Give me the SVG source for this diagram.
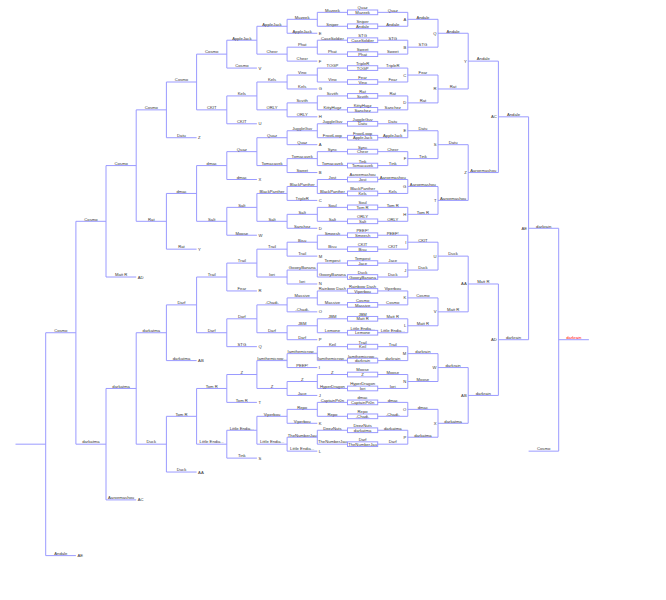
<svg xmlns="http://www.w3.org/2000/svg" width="666" height="600" viewBox="0 0 666 600">
<style>
.ln{fill:none;stroke:#9a9aff;stroke-width:1}
.bx{fill:none;stroke:#9a9aff;stroke-width:1}
text{font-family:"Liberation Sans",Arial,sans-serif;font-size:4.2px;fill:#333;text-anchor:middle}
.lt{text-anchor:end}
.dl{text-anchor:start}
.champ{fill:#ff0000}
</style>
<rect width="666" height="600" fill="#ffffff"/>
<g id="connectors" class="ln">
<path d="M377.7 12.35H407.8V26.28H377.7M407.8 19.32H438"/>
<path d="M377.7 40.21H407.8V54.14H377.7M407.8 47.18H438"/>
<path d="M377.7 68.07H407.8V82H377.7M407.8 75.04H438"/>
<path d="M377.7 95.93H407.8V109.86H377.7M407.8 102.9H438"/>
<path d="M377.7 123.79H407.8V137.72H377.7M407.8 130.76H438"/>
<path d="M377.7 151.65H407.8V165.58H377.7M407.8 158.62H438"/>
<path d="M377.7 179.51H407.8V193.44H377.7M407.8 186.48H438"/>
<path d="M377.7 207.37H407.8V221.3H377.7M407.8 214.34H438"/>
<path d="M377.7 235.23H407.8V249.16H377.7M407.8 242.2H438"/>
<path d="M377.7 263.09H407.8V277.02H377.7M407.8 270.06H438"/>
<path d="M377.7 290.95H407.8V304.88H377.7M407.8 297.92H438"/>
<path d="M377.7 318.81H407.8V332.74H377.7M407.8 325.78H438"/>
<path d="M377.7 346.67H407.8V360.6H377.7M407.8 353.64H438"/>
<path d="M377.7 374.53H407.8V388.46H377.7M407.8 381.5H438"/>
<path d="M377.7 402.39H407.8V416.32H377.7M407.8 409.36H438"/>
<path d="M377.7 430.25H407.8V444.18H377.7M407.8 437.22H438"/>
<path d="M347.5 12.35H317.3V26.28H347.5M317.3 19.32H287.1"/>
<path d="M347.5 40.21H317.3V54.14H347.5M317.3 47.18H287.1"/>
<path d="M347.5 68.07H317.3V82H347.5M317.3 75.04H287.1"/>
<path d="M347.5 95.93H317.3V109.86H347.5M317.3 102.9H287.1"/>
<path d="M347.5 123.79H317.3V137.72H347.5M317.3 130.76H287.1"/>
<path d="M347.5 151.65H317.3V165.58H347.5M317.3 158.62H287.1"/>
<path d="M347.5 179.51H317.3V193.44H347.5M317.3 186.48H287.1"/>
<path d="M347.5 207.37H317.3V221.3H347.5M317.3 214.34H287.1"/>
<path d="M347.5 235.23H317.3V249.16H347.5M317.3 242.2H287.1"/>
<path d="M347.5 263.09H317.3V277.02H347.5M317.3 270.06H287.1"/>
<path d="M347.5 290.95H317.3V304.88H347.5M317.3 297.92H287.1"/>
<path d="M347.5 318.81H317.3V332.74H347.5M317.3 325.78H287.1"/>
<path d="M347.5 346.67H317.3V360.6H347.5M317.3 353.64H287.1"/>
<path d="M347.5 374.53H317.3V388.46H347.5M317.3 381.5H287.1"/>
<path d="M347.5 402.39H317.3V416.32H347.5M317.3 409.36H287.1"/>
<path d="M347.5 430.25H317.3V444.18H347.5M317.3 437.22H287.1"/>
<path d="M287.1 19.32V33.25H317.3M287.1 26.28H256.9"/>
<path d="M287.1 47.18V61.11H317.3M287.1 54.14H256.9"/>
<path d="M287.1 75.04V88.97H317.3M287.1 82H256.9"/>
<path d="M287.1 102.9V116.83H317.3M287.1 109.86H256.9"/>
<path d="M287.1 130.76V144.69H317.3M287.1 137.72H256.9"/>
<path d="M287.1 158.62V172.55H317.3M287.1 165.58H256.9"/>
<path d="M287.1 186.48V200.41H317.3M287.1 193.44H256.9"/>
<path d="M287.1 214.34V228.27H317.3M287.1 221.3H256.9"/>
<path d="M287.1 242.2V256.13H317.3M287.1 249.16H256.9"/>
<path d="M287.1 270.06V283.99H317.3M287.1 277.02H256.9"/>
<path d="M287.1 297.92V311.85H317.3M287.1 304.88H256.9"/>
<path d="M287.1 325.78V339.71H317.3M287.1 332.74H256.9"/>
<path d="M287.1 353.64V367.57H317.3M287.1 360.6H256.9"/>
<path d="M287.1 381.5V395.43H317.3M287.1 388.46H256.9"/>
<path d="M287.1 409.36V423.29H317.3M287.1 416.32H256.9"/>
<path d="M287.1 437.22V451.15H317.3M287.1 444.18H256.9"/>
<path d="M438 19.32V47.18M438 33.25H468.2"/>
<path d="M438 75.04V102.9M438 88.97H468.2"/>
<path d="M438 130.76V158.62M438 144.69H468.2"/>
<path d="M438 186.48V214.34M438 200.41H468.2"/>
<path d="M438 242.2V270.06M438 256.13H468.2"/>
<path d="M438 297.92V325.78M438 311.85H468.2"/>
<path d="M438 353.64V381.5M438 367.57H468.2"/>
<path d="M438 409.36V437.22M438 423.29H468.2"/>
<path d="M256.9 26.28V54.14M256.9 40.21H226.8"/>
<path d="M256.9 82V109.86M256.9 95.93H226.8"/>
<path d="M256.9 137.72V165.58M256.9 151.65H226.8"/>
<path d="M256.9 193.44V221.3M256.9 207.37H226.8"/>
<path d="M256.9 249.16V277.02M256.9 263.09H226.8"/>
<path d="M256.9 304.88V332.74M256.9 318.81H226.8"/>
<path d="M256.9 360.6V388.46M256.9 374.53H226.8"/>
<path d="M256.9 416.32V444.18M256.9 430.25H226.8"/>
<path d="M226.8 40.21V68.07H256.9M226.8 54.14H196.6"/>
<path d="M226.8 95.93V123.79H256.9M226.8 109.86H196.6"/>
<path d="M226.8 151.65V179.51H256.9M226.8 165.58H196.6"/>
<path d="M226.8 207.37V235.23H256.9M226.8 221.3H196.6"/>
<path d="M226.8 263.09V290.95H256.9M226.8 277.02H196.6"/>
<path d="M226.8 318.81V346.67H256.9M226.8 332.74H196.6"/>
<path d="M226.8 374.53V402.39H256.9M226.8 388.46H196.6"/>
<path d="M226.8 430.25V458.11H256.9M226.8 444.18H196.6"/>
<path d="M468.2 33.25V88.97M468.2 61.11H498.4"/>
<path d="M468.2 144.69V200.41M468.2 172.55H498.4"/>
<path d="M468.2 256.13V311.85M468.2 283.99H498.4"/>
<path d="M468.2 367.57V423.29M468.2 395.43H498.4"/>
<path d="M196.6 54.14V109.86M196.6 82H166.4"/>
<path d="M196.6 165.58V221.3M196.6 193.44H166.4"/>
<path d="M196.6 277.02V332.74M196.6 304.88H166.4"/>
<path d="M196.6 388.46V444.18M196.6 416.32H166.4"/>
<path d="M166.4 82V137.72H196.6M166.4 109.86H136.2"/>
<path d="M166.4 193.44V249.16H196.6M166.4 221.3H136.2"/>
<path d="M166.4 304.88V360.6H196.6M166.4 332.74H136.2"/>
<path d="M166.4 416.32V472.04H196.6M166.4 444.18H136.2"/>
<path d="M498.4 61.11V172.55M498.4 116.83H528.6"/>
<path d="M498.4 283.99V395.43M498.4 339.71H528.6"/>
<path d="M136.2 109.86V221.3M136.2 165.58H106"/>
<path d="M136.2 332.74V444.18M136.2 388.46H106"/>
<path d="M106 165.58V277.02H136.2M106 221.3H75.9"/>
<path d="M106 388.46V499.9H136.2M106 444.18H75.9"/>
<path d="M75.9 221.3V444.18M75.9 332.74H45.7"/>
<path d="M45.7 332.74V555.62H75.9M45.7 444.18H15.5"/>
<path d="M528.6 116.83V339.71M528.6 228.27H558.7"/>
<path d="M558.7 228.27V451.15H528.6M558.7 339.71H588.9"/>
</g>
<g id="w1-00" transform="translate(0,12.35)"><rect class="bx" x="347.5" y="-2.35" width="30.2" height="4.7"/><text x="362.6" y="-3.05">Quaz</text><text x="362.6" y="1.65">Muzeek</text><text x="392.75" y="-0.7">Quaz</text><text x="332.4" y="-0.7">Muzeek</text></g>
<g id="w1-01" transform="translate(0,26.28)"><rect class="bx" x="347.5" y="-2.35" width="30.2" height="4.7"/><text x="362.6" y="-3.05">Sniper</text><text x="362.6" y="1.65">Andale</text><text x="392.75" y="-0.7">Andale</text><text x="332.4" y="-0.7">Sniper</text></g>
<g id="w1-02" transform="translate(0,40.21)"><rect class="bx" x="347.5" y="-2.35" width="30.2" height="4.7"/><text x="362.6" y="-3.05">STG</text><text x="362.6" y="1.65">CaseSoldier</text><text x="392.75" y="-0.7">STG</text><text x="332.4" y="-0.7">CaseSoldier</text></g>
<g id="w1-03" transform="translate(0,54.14)"><rect class="bx" x="347.5" y="-2.35" width="30.2" height="4.7"/><text x="362.6" y="-3.05">Sweet</text><text x="362.6" y="1.65">Phat</text><text x="392.75" y="-0.7">Sweet</text><text x="332.4" y="-0.7">Phat</text></g>
<g id="w1-04" transform="translate(0,68.07)"><rect class="bx" x="347.5" y="-2.35" width="30.2" height="4.7"/><text x="362.6" y="-3.05">TripleR</text><text x="362.6" y="1.65">TOGP</text><text x="392.75" y="-0.7">TripleR</text><text x="332.4" y="-0.7">TOGP</text></g>
<g id="w1-05" transform="translate(0,82)"><rect class="bx" x="347.5" y="-2.35" width="30.2" height="4.7"/><text x="362.6" y="-3.05">Fear</text><text x="362.6" y="1.65">Vino</text><text x="392.75" y="-0.7">Fear</text><text x="332.4" y="-0.7">Vino</text></g>
<g id="w1-06" transform="translate(0,95.93)"><rect class="bx" x="347.5" y="-2.35" width="30.2" height="4.7"/><text x="362.6" y="-3.05">Rat</text><text x="362.6" y="1.65">Scvith</text><text x="392.75" y="-0.7">Rat</text><text x="332.4" y="-0.7">Scvith</text></g>
<g id="w1-07" transform="translate(0,109.86)"><rect class="bx" x="347.5" y="-2.35" width="30.2" height="4.7"/><text x="362.6" y="-3.05">KittyHugz</text><text x="362.6" y="1.65">Sanchez</text><text x="392.75" y="-0.7">Sanchez</text><text x="332.4" y="-0.7">KittyHugz</text></g>
<g id="w1-08" transform="translate(0,123.79)"><rect class="bx" x="347.5" y="-2.35" width="30.2" height="4.7"/><text x="362.6" y="-3.05">JuggleGuv</text><text x="362.6" y="1.65">Datu</text><text x="392.75" y="-0.7">Datu</text><text x="332.4" y="-0.7">JuggleGuv</text></g>
<g id="w1-09" transform="translate(0,137.72)"><rect class="bx" x="347.5" y="-2.35" width="30.2" height="4.7"/><text x="362.6" y="-3.05">FrootLoop</text><text x="362.6" y="1.65">AppleJack</text><text x="392.75" y="-0.7">AppleJack</text><text x="332.4" y="-0.7">FrootLoop</text></g>
<g id="w1-10" transform="translate(0,151.65)"><rect class="bx" x="347.5" y="-2.35" width="30.2" height="4.7"/><text x="362.6" y="-3.05">Sync</text><text x="362.6" y="1.65">Chexr</text><text x="392.75" y="-0.7">Chexr</text><text x="332.4" y="-0.7">Sync</text></g>
<g id="w1-11" transform="translate(0,165.58)"><rect class="bx" x="347.5" y="-2.35" width="30.2" height="4.7"/><text x="362.6" y="-3.05">Tink</text><text x="362.6" y="1.65">Tomacavek</text><text x="392.75" y="-0.7">Tink</text><text x="332.4" y="-0.7">Tomacavek</text></g>
<g id="w1-12" transform="translate(0,179.51)"><rect class="bx" x="347.5" y="-2.35" width="30.2" height="4.7"/><text x="362.6" y="-3.05">Aaroemashou</text><text x="362.6" y="1.65">Jost</text><text x="392.75" y="-0.7">Aaroemashou</text><text x="332.4" y="-0.7">Jost</text></g>
<g id="w1-13" transform="translate(0,193.44)"><rect class="bx" x="347.5" y="-2.35" width="30.2" height="4.7"/><text x="362.6" y="-3.05">BlackPanther</text><text x="362.6" y="1.65">Kels</text><text x="392.75" y="-0.7">Kels</text><text x="332.4" y="-0.7">BlackPanther</text></g>
<g id="w1-14" transform="translate(0,207.37)"><rect class="bx" x="347.5" y="-2.35" width="30.2" height="4.7"/><text x="362.6" y="-3.05">Soul</text><text x="362.6" y="1.65">Tom R</text><text x="392.75" y="-0.7">Tom R</text><text x="332.4" y="-0.7">Soul</text></g>
<g id="w1-15" transform="translate(0,221.3)"><rect class="bx" x="347.5" y="-2.35" width="30.2" height="4.7"/><text x="362.6" y="-3.05">ORLY</text><text x="362.6" y="1.65">Salt</text><text x="392.75" y="-0.7">ORLY</text><text x="332.4" y="-0.7">Salt</text></g>
<g id="w1-16" transform="translate(0,235.23)"><rect class="bx" x="347.5" y="-2.35" width="30.2" height="4.7"/><text x="362.6" y="-3.05">PEEF!</text><text x="362.6" y="1.65">Smeesh</text><text x="392.75" y="-0.7">PEEF!</text><text x="332.4" y="-0.7">Smeesh</text></g>
<g id="w1-17" transform="translate(0,249.16)"><rect class="bx" x="347.5" y="-2.35" width="30.2" height="4.7"/><text x="362.6" y="-3.05">CKIT</text><text x="362.6" y="1.65">Bisu</text><text x="392.75" y="-0.7">CKIT</text><text x="332.4" y="-0.7">Bisu</text></g>
<g id="w1-18" transform="translate(0,263.09)"><rect class="bx" x="347.5" y="-2.35" width="30.2" height="4.7"/><text x="362.6" y="-3.05">Tempest</text><text x="362.6" y="1.65">Jace</text><text x="392.75" y="-0.7">Jace</text><text x="332.4" y="-0.7">Tempest</text></g>
<g id="w1-19" transform="translate(0,277.02)"><rect class="bx" x="347.5" y="-2.35" width="30.2" height="4.7"/><text x="362.6" y="-3.05">Duck</text><text x="362.6" y="1.65">GooeyBanana</text><text x="392.75" y="-0.7">Duck</text><text x="332.4" y="-0.7">GooeyBanana</text></g>
<g id="w1-20" transform="translate(0,290.95)"><rect class="bx" x="347.5" y="-2.35" width="30.2" height="4.7"/><text x="362.6" y="-3.05">Rainbow Dash</text><text x="362.6" y="1.65">Viperbou</text><text x="392.75" y="-0.7">Viperbou</text><text x="332.4" y="-0.7">Rainbow Dash</text></g>
<g id="w1-21" transform="translate(0,304.88)"><rect class="bx" x="347.5" y="-2.35" width="30.2" height="4.7"/><text x="362.6" y="-3.05">Cosmo</text><text x="362.6" y="1.65">Massive</text><text x="392.75" y="-0.7">Cosmo</text><text x="332.4" y="-0.7">Massive</text></g>
<g id="w1-22" transform="translate(0,318.81)"><rect class="bx" x="347.5" y="-2.35" width="30.2" height="4.7"/><text x="362.6" y="-3.05">JBM</text><text x="362.6" y="1.65">Matt R</text><text x="392.75" y="-0.7">Matt R</text><text x="332.4" y="-0.7">JBM</text></g>
<g id="w1-23" transform="translate(0,332.74)"><rect class="bx" x="347.5" y="-2.35" width="30.2" height="4.7"/><text x="362.6" y="-3.05">Little Endia...</text><text x="362.6" y="1.65">Lemone</text><text x="392.75" y="-0.7">Little Endia...</text><text x="332.4" y="-0.7">Lemone</text></g>
<g id="w1-24" transform="translate(0,346.67)"><rect class="bx" x="347.5" y="-2.35" width="30.2" height="4.7"/><text x="362.6" y="-3.05">Trail</text><text x="362.6" y="1.65">Keil</text><text x="392.75" y="-0.7">Trail</text><text x="332.4" y="-0.7">Keil</text></g>
<g id="w1-25" transform="translate(0,360.6)"><rect class="bx" x="347.5" y="-2.35" width="30.2" height="4.7"/><text x="362.6" y="-3.05">Iamthemicrow...</text><text x="362.6" y="1.65">darkrain</text><text x="392.75" y="-0.7">darkrain</text><text x="332.4" y="-0.7">Iamthemicrow...</text></g>
<g id="w1-26" transform="translate(0,374.53)"><rect class="bx" x="347.5" y="-2.35" width="30.2" height="4.7"/><text x="362.6" y="-3.05">Moose</text><text x="362.6" y="1.65">Z</text><text x="392.75" y="-0.7">Moose</text><text x="332.4" y="-0.7">Z</text></g>
<g id="w1-27" transform="translate(0,388.46)"><rect class="bx" x="347.5" y="-2.35" width="30.2" height="4.7"/><text x="362.6" y="-3.05">HyperDragon</text><text x="362.6" y="1.65">Iori</text><text x="392.75" y="-0.7">Iori</text><text x="332.4" y="-0.7">HyperDragon</text></g>
<g id="w1-28" transform="translate(0,402.39)"><rect class="bx" x="347.5" y="-2.35" width="30.2" height="4.7"/><text x="362.6" y="-3.05">dmac</text><text x="362.6" y="1.65">CaptainPr0n</text><text x="392.75" y="-0.7">dmac</text><text x="332.4" y="-0.7">CaptainPr0n</text></g>
<g id="w1-29" transform="translate(0,416.32)"><rect class="bx" x="347.5" y="-2.35" width="30.2" height="4.7"/><text x="362.6" y="-3.05">Repo</text><text x="362.6" y="1.65">-Chadi-</text><text x="392.75" y="-0.7">-Chadi-</text><text x="332.4" y="-0.7">Repo</text></g>
<g id="w1-30" transform="translate(0,430.25)"><rect class="bx" x="347.5" y="-2.35" width="30.2" height="4.7"/><text x="362.6" y="-3.05">DeezNuts</text><text x="362.6" y="1.65">darkatma</text><text x="392.75" y="-0.7">darkatma</text><text x="332.4" y="-0.7">DeezNuts</text></g>
<g id="w1-31" transform="translate(0,444.18)"><rect class="bx" x="347.5" y="-2.35" width="30.2" height="4.7"/><text x="362.6" y="-3.05">Darf</text><text x="362.6" y="1.65">TheNumberJau</text><text x="392.75" y="-0.7">Darf</text><text x="332.4" y="-0.7">TheNumberJau</text></g>
<g id="winners-r2">
<text x="422.9" y="18.62">Andale</text><text class="lt" x="406.3" y="20.82">A</text>
<text x="422.9" y="46.48">STG</text><text class="lt" x="406.3" y="48.68">B</text>
<text x="422.9" y="74.34">Fear</text><text class="lt" x="406.3" y="76.54">C</text>
<text x="422.9" y="102.2">Rat</text><text class="lt" x="406.3" y="104.4">D</text>
<text x="422.9" y="130.06">Datu</text><text class="lt" x="406.3" y="132.26">E</text>
<text x="422.9" y="157.92">Tink</text><text class="lt" x="406.3" y="160.12">F</text>
<text x="422.9" y="185.78">Aaroemashou</text><text class="lt" x="406.3" y="187.98">G</text>
<text x="422.9" y="213.64">Tom R</text><text class="lt" x="406.3" y="215.84">H</text>
<text x="422.9" y="241.5">CKIT</text><text class="lt" x="406.3" y="243.7">I</text>
<text x="422.9" y="269.36">Duck</text><text class="lt" x="406.3" y="271.56">J</text>
<text x="422.9" y="297.22">Cosmo</text><text class="lt" x="406.3" y="299.42">K</text>
<text x="422.9" y="325.08">Matt R</text><text class="lt" x="406.3" y="327.28">L</text>
<text x="422.9" y="352.94">darkrain</text><text class="lt" x="406.3" y="355.14">M</text>
<text x="422.9" y="380.8">Moose</text><text class="lt" x="406.3" y="383">N</text>
<text x="422.9" y="408.66">dmac</text><text class="lt" x="406.3" y="410.86">O</text>
<text x="422.9" y="436.52">darkatma</text><text class="lt" x="406.3" y="438.72">P</text>
</g>
<g id="winners-r3">
<text x="453.1" y="32.55">Andale</text><text class="lt" x="436.5" y="34.75">Q</text>
<text x="453.1" y="88.27">Rat</text><text class="lt" x="436.5" y="90.47">R</text>
<text x="453.1" y="143.99">Datu</text><text class="lt" x="436.5" y="146.19">S</text>
<text x="453.1" y="199.71">Aaroemashou</text><text class="lt" x="436.5" y="201.91">T</text>
<text x="453.1" y="255.43">Duck</text><text class="lt" x="436.5" y="257.63">U</text>
<text x="453.1" y="311.15">Matt R</text><text class="lt" x="436.5" y="313.35">V</text>
<text x="453.1" y="366.87">darkrain</text><text class="lt" x="436.5" y="369.07">W</text>
<text x="453.1" y="422.59">darkatma</text><text class="lt" x="436.5" y="424.79">X</text>
</g>
<g id="winners-r4">
<text x="483.3" y="60.41">Andale</text><text class="lt" x="466.7" y="62.61">Y</text>
<text x="483.3" y="171.85">Aaroemashou</text><text class="lt" x="466.7" y="174.05">Z</text>
<text x="483.3" y="283.29">Matt R</text><text class="lt" x="466.7" y="285.49">AA</text>
<text x="483.3" y="394.73">darkrain</text><text class="lt" x="466.7" y="396.93">AB</text>
</g>
<g id="winners-r5">
<text x="513.5" y="116.13">Andale</text><text class="lt" x="496.9" y="118.33">AC</text>
<text x="513.5" y="339.01">darkrain</text><text class="lt" x="496.9" y="341.21">AD</text>
</g>
<g id="winners-final">
<text x="543.65" y="227.57">darkrain</text><text class="lt" x="527.1" y="229.77">AE</text>
</g>
<g id="grand-final">
<text x="543.65" y="450.45">Cosmo</text>
<text class="champ" x="573.8" y="339.01">darkrain</text>
</g>
<g id="losers-r1">
<text x="302.2" y="18.62">Muzeek</text>
<text x="302.2" y="46.48">Phat</text>
<text x="302.2" y="74.34">Vino</text>
<text x="302.2" y="102.2">Scvith</text>
<text x="302.2" y="130.06">JuggleGuv</text>
<text x="302.2" y="157.92">Tomacavek</text>
<text x="302.2" y="185.78">BlackPanther</text>
<text x="302.2" y="213.64">Salt</text>
<text x="302.2" y="241.5">Bisu</text>
<text x="302.2" y="269.36">GooeyBanana</text>
<text x="302.2" y="297.22">Massive</text>
<text x="302.2" y="325.08">JBM</text>
<text x="302.2" y="352.94">Iamthemicrow...</text>
<text x="302.2" y="380.8">Z</text>
<text x="302.2" y="408.66">Repo</text>
<text x="302.2" y="436.52">TheNumberJau</text>
</g>
<g id="losers-r2">
<text x="302.2" y="32.55">AppleJack</text><text class="dl" x="318.8" y="34.75">E</text>
<text x="302.2" y="60.41">Chexr</text><text class="dl" x="318.8" y="62.61">F</text>
<text x="302.2" y="88.27">Kels</text><text class="dl" x="318.8" y="90.47">G</text>
<text x="302.2" y="116.13">ORLY</text><text class="dl" x="318.8" y="118.33">H</text>
<text x="302.2" y="143.99">Quaz</text><text class="dl" x="318.8" y="146.19">A</text>
<text x="302.2" y="171.85">Sweet</text><text class="dl" x="318.8" y="174.05">B</text>
<text x="302.2" y="199.71">TripleR</text><text class="dl" x="318.8" y="201.91">C</text>
<text x="302.2" y="227.57">Sanchez</text><text class="dl" x="318.8" y="229.77">D</text>
<text x="302.2" y="255.43">Trail</text><text class="dl" x="318.8" y="257.63">M</text>
<text x="302.2" y="283.29">Iori</text><text class="dl" x="318.8" y="285.49">N</text>
<text x="302.2" y="311.15">-Chadi-</text><text class="dl" x="318.8" y="313.35">O</text>
<text x="302.2" y="339.01">Darf</text><text class="dl" x="318.8" y="341.21">P</text>
<text x="302.2" y="366.87">PEEF!</text><text class="dl" x="318.8" y="369.07">I</text>
<text x="302.2" y="394.73">Jace</text><text class="dl" x="318.8" y="396.93">J</text>
<text x="302.2" y="422.59">Viperbou</text><text class="dl" x="318.8" y="424.79">K</text>
<text x="302.2" y="450.45">Little Endia...</text><text class="dl" x="318.8" y="452.65">L</text>
<text x="272" y="25.58">AppleJack</text>
<text x="272" y="53.44">Chexr</text>
<text x="272" y="81.3">Kels</text>
<text x="272" y="109.16">ORLY</text>
<text x="272" y="137.02">Quaz</text>
<text x="272" y="164.88">Tomacavek</text>
<text x="272" y="192.74">BlackPanther</text>
<text x="272" y="220.6">Salt</text>
<text x="272" y="248.46">Trail</text>
<text x="272" y="276.32">Iori</text>
<text x="272" y="304.18">-Chadi-</text>
<text x="272" y="332.04">Darf</text>
<text x="272" y="359.9">Iamthemicrow...</text>
<text x="272" y="387.76">Z</text>
<text x="272" y="415.62">Viperbou</text>
<text x="272" y="443.48">Little Endia...</text>
</g>
<g id="losers-r3">
<text x="241.85" y="39.51">AppleJack</text>
<text x="241.85" y="95.23">Kels</text>
<text x="241.85" y="150.95">Quaz</text>
<text x="241.85" y="206.67">Salt</text>
<text x="241.85" y="262.39">Trail</text>
<text x="241.85" y="318.11">Darf</text>
<text x="241.85" y="373.83">Z</text>
<text x="241.85" y="429.55">Little Endia...</text>
</g>
<g id="losers-r4">
<text x="241.85" y="67.37">Cosmo</text><text class="dl" x="258.4" y="69.57">V</text>
<text x="241.85" y="123.09">CKIT</text><text class="dl" x="258.4" y="125.29">U</text>
<text x="241.85" y="178.81">dmac</text><text class="dl" x="258.4" y="181.01">X</text>
<text x="241.85" y="234.53">Moose</text><text class="dl" x="258.4" y="236.73">W</text>
<text x="241.85" y="290.25">Fear</text><text class="dl" x="258.4" y="292.45">R</text>
<text x="241.85" y="345.97">STG</text><text class="dl" x="258.4" y="348.17">Q</text>
<text x="241.85" y="401.69">Tom R</text><text class="dl" x="258.4" y="403.89">T</text>
<text x="241.85" y="457.41">Tink</text><text class="dl" x="258.4" y="459.61">S</text>
<text x="211.7" y="53.44">Cosmo</text>
<text x="211.7" y="109.16">CKIT</text>
<text x="211.7" y="164.88">dmac</text>
<text x="211.7" y="220.6">Salt</text>
<text x="211.7" y="276.32">Trail</text>
<text x="211.7" y="332.04">Darf</text>
<text x="211.7" y="387.76">Tom R</text>
<text x="211.7" y="443.48">Little Endia...</text>
</g>
<g id="losers-r5">
<text x="181.5" y="81.3">Cosmo</text>
<text x="181.5" y="192.74">dmac</text>
<text x="181.5" y="304.18">Darf</text>
<text x="181.5" y="415.62">Tom R</text>
</g>
<g id="losers-r6">
<text x="181.5" y="137.02">Datu</text><text class="dl" x="198.1" y="139.22">Z</text>
<text x="181.5" y="248.46">Rat</text><text class="dl" x="198.1" y="250.66">Y</text>
<text x="181.5" y="359.9">darkatma</text><text class="dl" x="198.1" y="362.1">AB</text>
<text x="181.5" y="471.34">Duck</text><text class="dl" x="198.1" y="473.54">AA</text>
<text x="151.3" y="109.16">Cosmo</text>
<text x="151.3" y="220.6">Rat</text>
<text x="151.3" y="332.04">darkatma</text>
<text x="151.3" y="443.48">Duck</text>
</g>
<g id="losers-r7">
<text x="121.1" y="164.88">Cosmo</text>
<text x="121.1" y="387.76">darkatma</text>
</g>
<g id="losers-r8">
<text x="121.1" y="276.32">Matt R</text><text class="dl" x="137.7" y="278.52">AD</text>
<text x="121.1" y="499.2">Aaroemashou</text><text class="dl" x="137.7" y="501.4">AC</text>
<text x="90.95" y="220.6">Cosmo</text>
<text x="90.95" y="443.48">darkatma</text>
</g>
<g id="losers-r9">
<text x="60.8" y="332.04">Cosmo</text>
</g>
<g id="losers-final">
<text x="60.8" y="554.92">Andale</text><text class="dl" x="77.4" y="557.12">AE</text>
</g>
</svg>
